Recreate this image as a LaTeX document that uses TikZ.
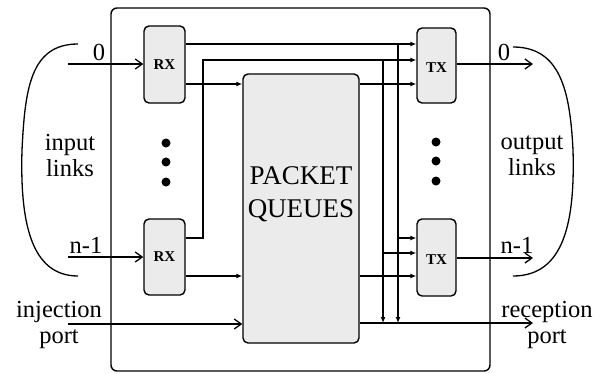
\documentclass[tikz,border=0pt]{standalone}
\usepackage{fontspec}
\setmainfont{Liberation Serif}
\usetikzlibrary{arrows.meta}
\definecolor{stipple}{gray}{0.92}
\tikzset{
  box/.style={draw, line width=1.4pt, rounded corners=5pt, fill=stipple, inner sep=0pt},
  frame/.style={draw, line width=1.4pt, rounded corners=6pt, inner sep=0pt},
  int/.style={line width=1.3pt, -{Latex[length=6pt,width=5pt]}},
  ext/.style={line width=1.3pt, -{Straight Barb[length=7pt,width=10pt,line width=1.3pt]}},
  lbl/.style={font=\fontsize{24.5}{26}\selectfont, inner sep=0pt, align=center},
  bxl/.style={font=\fontsize{15}{16}\selectfont\bfseries},
  dot/.style={fill, circle, inner sep=0pt, minimum size=9pt},
}
\begin{document}
\begin{tikzpicture}[x=1pt,y=-1pt]
\useasboundingbox (0,0) rectangle (600,373);
% frame
\node[frame, minimum width=379pt, minimum height=363pt] (frame) at (300.5,189.5) {};
% boxes
\node[box, minimum width=41pt, minimum height=77pt] (rx0) at (164.5,64.5) {};
\node[box, minimum width=41pt, minimum height=76pt] (rx1) at (164.5,257) {};
\node[box, minimum width=39pt, minimum height=75pt] (tx0) at (436.5,65.5) {};
\node[box, minimum width=39pt, minimum height=77pt] (tx1) at (436.5,257.5) {};
\node[box, minimum width=116pt, minimum height=269pt] (pq) at (301,208.5) {};
\node[bxl] (rx0t) at (rx0) {RX};
\node[bxl] (rx1t) at (rx1) {RX};
\node[bxl] (tx0t) at ([yshift=-2pt]tx0.center) {TX};
\node[bxl] (tx1t) at ([yshift=-2pt]tx1.center) {TX};
\node[font=\fontsize{27}{33}\selectfont, align=center, inner sep=0pt] (pqt) at (301,194) {PACKET\\QUEUES};
% helper levels
\coordinate (yA) at (0,44);
\coordinate (yB) at (0,60);
\coordinate (yC) at (0,84);
\coordinate (yD) at (0,238);
\coordinate (yE) at (0,253);
\coordinate (yF) at (0,276);
\coordinate (yR) at (0,323);
\coordinate (xA) at (203,0);
\coordinate (xB) at (383,0);
\coordinate (xC) at (398,0);
% internal connections
\draw[int] (rx0.east |- yA) -- (tx0.west |- yA);
\draw[int] (rx1.east |- yD) -| (xA |- yB) -- (tx0.west |- yB);
\draw[int] (rx0.east |- yC) -- (pq.west |- yC);
\draw[int] (rx1.east |- yF) -- (pq.west |- yF);
\draw[int] (pq.east |- yC) -- (tx0.west |- yC);
\draw[int] (pq.east |- yF) -- (tx1.west |- yF);
\draw[int] (xC |- yA) -- (xC |- yR);
\draw[int] (xB |- yB) -- (xB |- yR);
\draw[int] (xC |- yD) -- (tx1.west |- yD);
\draw[int] (xB |- yE) -- (tx1.west |- yE);
% external links
\coordinate (in0) at (68,64);
\coordinate (in1) at (68,257);
\coordinate (inj) at (68,324);
\coordinate (out0) at (533,64);
\coordinate (out1) at (533,258);
\coordinate (recv) at (533,323);
\draw[ext] (in0) -- (rx0.west |- in0);
\draw[ext] (in1) -- (rx1.west |- in1);
\draw[ext] (inj) -- (pq.west |- inj);
\draw[ext] (tx0.east |- out0) -- (out0);
\draw[ext] (tx1.east |- out1) -- (out1);
\draw[ext] (pq.east |- recv) -- (recv);
% brackets
\draw[line width=1.3pt] (78,44) .. controls (30,44) and (25,90) .. (22,150) .. controls (20,220) and (30,276) .. (78,276);
\draw[line width=1.3pt] (513,47) .. controls (560,47) and (570,90) .. (573,150) .. controls (575,220) and (565,276) .. (513,276);
% dots
\node[dot] (dl1) at (166,143) {};
\node[dot] (dl2) at (166,162) {};
\node[dot] (dl3) at (166,182) {};
\node[dot] (dr1) at (436,142) {};
\node[dot] (dr2) at (436,161) {};
\node[dot] (dr3) at (436,181) {};
% labels
\node[lbl] (l0) at (99,52) {0};
\node[lbl] (l1) at (86,245) {n-1};
\node[lbl] (r0) at (504,52) {0};
\node[lbl] (r1) at (517,245) {n-1};
\node[lbl] (inl) at (70,156) {input\\links};
\node[lbl] (outl) at (532,156) {output\\links};
\node[lbl] (injl) at (59,325) {injection\\port};
\node[lbl] (recl) at (547,325) {reception\\port};
\end{tikzpicture}
\end{document}
